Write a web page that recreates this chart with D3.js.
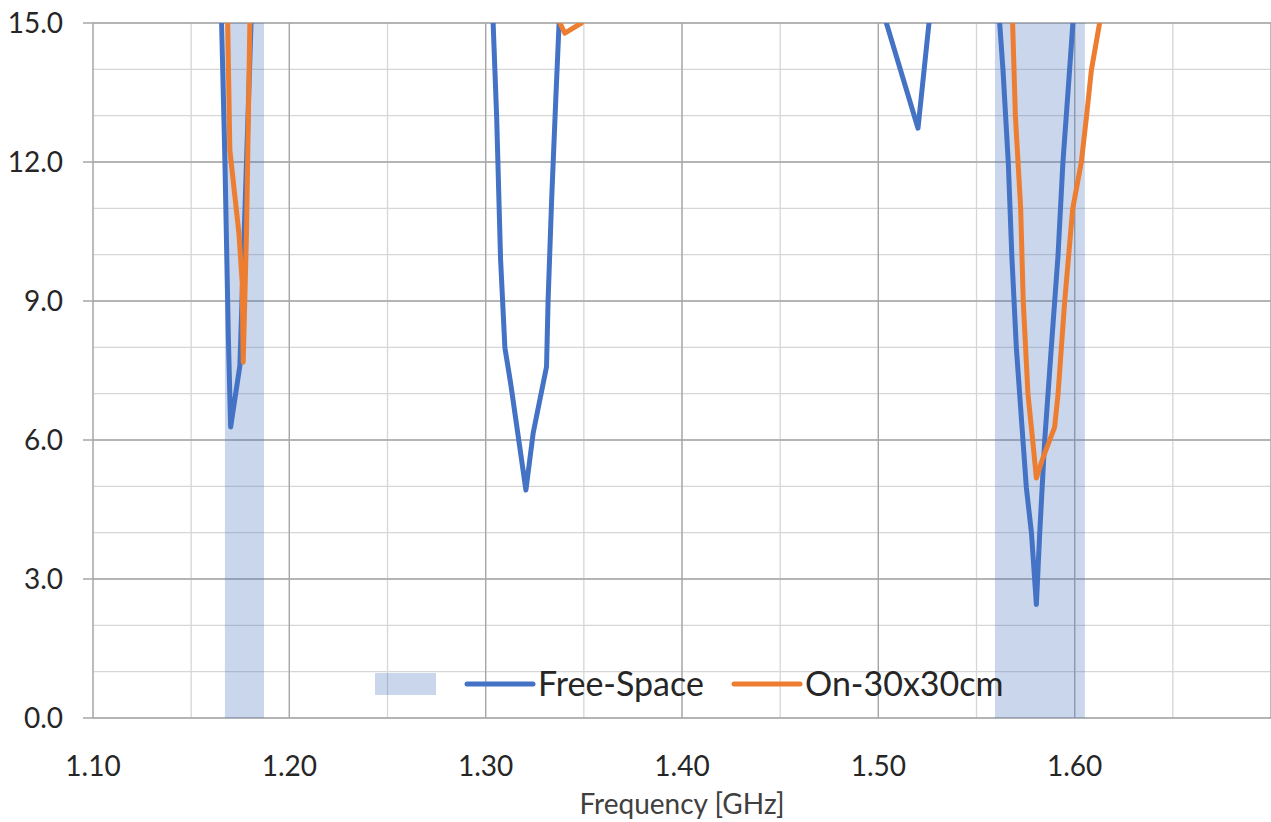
<!DOCTYPE html>
<html>
<head>
<meta charset="utf-8">
<script src="https://cdn.jsdelivr.net/npm/d3@7"></script>
<style>
  body { margin: 0; background: #fff; }
  svg { display: block; }
  text { font-family: Lato, "Open Sans", sans-serif; }
</style>
</head>
<body>
<div id="chart"></div>
<script>
// return loss curves, values above 15 run off the top of the plot and get clipped
const freeFreq = [1.100, 1.140, 1.1630, 1.1655, 1.1672, 1.1689, 1.1701, 1.1748, 1.1805, 1.1822,
  1.230, 1.280, 1.3028, 1.3038, 1.3056, 1.3076, 1.3098, 1.3127, 1.3205, 1.3242, 1.3310, 1.3318,
  1.3336, 1.3357, 1.3374, 1.3388, 1.400, 1.460, 1.4899, 1.5041, 1.5202, 1.5258, 1.5307, 1.545,
  1.5584, 1.5618, 1.5635, 1.5662, 1.5680, 1.5703, 1.5737, 1.5754, 1.5780, 1.5805, 1.5822, 1.5847,
  1.5881, 1.5915, 1.5940, 1.5974, 1.5991, 1.6025, 1.650, 1.700];
const freeRL = [20, 19, 17.5, 15.0, 12.0, 8.3, 6.28, 7.6, 15.0, 17.5,
  21, 20, 17, 15.0, 12.97, 9.89, 7.99, 7.23, 4.92, 6.15, 7.58, 9.02,
  11.18, 13.34, 15.0, 17, 22, 20, 17, 15.0, 12.73, 15.0, 17, 19,
  17, 15.0, 13.98, 11.98, 9.97, 7.99, 5.97, 4.97, 3.99, 2.45, 3.99, 5.97,
  7.99, 9.97, 11.98, 13.98, 15.0, 17, 21, 20];

const onFreq = [1.100, 1.140, 1.1675, 1.1686, 1.1697, 1.1743, 1.1760, 1.1765, 1.1782, 1.1799, 1.1810,
  1.250, 1.320, 1.3360, 1.3378, 1.3403, 1.3488, 1.3500, 1.420, 1.500,
  1.5671, 1.5684, 1.5698, 1.5725, 1.5738, 1.5762, 1.5786, 1.5805, 1.5838, 1.5898, 1.5915,
  1.5949, 1.5990, 1.6034, 1.6060, 1.6085, 1.6127, 1.6243, 1.660, 1.700];
const onRL = [21, 19, 17, 15.0, 12.26, 10.47, 9.39, 7.68, 10.5, 15.0, 17,
  22, 18, 17, 15.0, 14.78, 15.0, 17, 22, 20,
  17, 15.0, 13.0, 11.0, 9.0, 7.0, 6.0, 5.18, 5.61, 6.28, 6.97,
  8.98, 10.99, 12.0, 12.97, 13.98, 15.0, 17, 21, 20];

// shaded bands (GHz)
const bandStart = [1.1672, 1.5594];
const bandEnd = [1.1871, 1.6052];
const bandTop = 15;

const xMajor = [1.10, 1.20, 1.30, 1.40, 1.50, 1.60, 1.70];
const xLabels = ["1.10", "1.20", "1.30", "1.40", "1.50", "1.60"];
const yMajor = [0, 3, 6, 9, 12, 15];
const yLabels = ["0.0", "3.0", "6.0", "9.0", "12.0", "15.0"];

const seriesNames = ["Free-Space", "On-30x30cm"];
const seriesColors = ["#4472c4", "#ed7d31"];

const width = 1271, height = 822;
const margin = {top: 23, right: 0, bottom: 104, left: 93};

const svg = d3.select("#chart").append("svg")
  .attr("width", width)
  .attr("height", height);

const x = d3.scaleLinear().domain([1.10, 1.70]).range([margin.left, width - margin.right]);
const y = d3.scaleLinear().domain([0, 15]).range([height - margin.bottom, margin.top]);

// grid, minor first then major on top
const grid = svg.append("g");
grid.selectAll(".vminor").data(x.ticks(12)).enter().append("line")
  .attr("x1", d => x(d)).attr("x2", d => x(d))
  .attr("y1", y(0)).attr("y2", y(15))
  .attr("stroke", "#d6d6d6").attr("stroke-width", 1.3);
grid.selectAll(".hminor").data(y.ticks(15)).enter().append("line")
  .attr("x1", x(1.10)).attr("x2", x(1.70))
  .attr("y1", d => y(d)).attr("y2", d => y(d))
  .attr("stroke", "#d6d6d6").attr("stroke-width", 1.3);
grid.selectAll(".vmajor").data(xMajor).enter().append("line")
  .attr("x1", d => x(d)).attr("x2", d => x(d))
  .attr("y1", y(0)).attr("y2", y(15))
  .attr("stroke", "#a6a6a6").attr("stroke-width", 1.3);
grid.selectAll(".hmajor").data(yMajor).enter().append("line")
  .attr("x1", x(1.10) - 10).attr("x2", x(1.70))
  .attr("y1", d => y(d)).attr("y2", d => y(d))
  .attr("stroke", "#a6a6a6").attr("stroke-width", 1.3);

svg.append("clipPath").attr("id", "plot")
  .append("rect")
  .attr("x", x(1.10)).attr("y", y(15))
  .attr("width", x(1.70) - x(1.10)).attr("height", y(0) - y(15));

// bands
svg.append("g").selectAll("rect").data(bandStart).enter().append("rect")
  .attr("x", (d, i) => x(d))
  .attr("y", y(bandTop))
  .attr("width", (d, i) => x(bandEnd[i]) - x(d))
  .attr("height", y(0) - y(bandTop))
  .attr("fill", "#4f78bd").attr("fill-opacity", 0.3);

const line = d3.line().x(d => x(d[0])).y(d => y(d[1]));

const series = [d3.zip(freeFreq, freeRL), d3.zip(onFreq, onRL)];
svg.append("g").attr("clip-path", "url(#plot)")
  .selectAll("path").data(series).enter().append("path")
  .attr("d", line)
  .attr("fill", "none")
  .attr("stroke", (d, i) => seriesColors[i])
  .attr("stroke-width", 5)
  .attr("stroke-linejoin", "round")
  .attr("stroke-linecap", "round");

// axis labels
svg.append("g").selectAll("text").data(yMajor).enter().append("text")
  .attr("x", 63).attr("y", d => y(d))
  .attr("dy", "0.36em")
  .attr("text-anchor", "end")
  .attr("font-size", 28)
  .attr("fill", "#262626")
  .text((d, i) => yLabels[i]);

svg.append("g").selectAll("text").data(xLabels).enter().append("text")
  .attr("x", (d, i) => x(xMajor[i])).attr("y", 776)
  .attr("text-anchor", "middle")
  .attr("font-size", 28)
  .attr("fill", "#262626")
  .text(d => d);

svg.append("text")
  .attr("x", (x(1.10) + x(1.70)) / 2).attr("y", 814)
  .attr("text-anchor", "middle")
  .attr("font-size", 28)
  .attr("fill", "#404040")
  .text("Frequency [GHz]");

// legend
const legend = svg.append("g").attr("id", "legend");
legend.append("rect")
  .attr("x", 375).attr("y", 673).attr("width", 61).attr("height", 22)
  .attr("fill", "#4f78bd").attr("fill-opacity", 0.3);

const legendX = [467, 734];
legend.selectAll("line").data(seriesNames).enter().append("line")
  .attr("x1", (d, i) => legendX[i]).attr("x2", (d, i) => legendX[i] + 66)
  .attr("y1", 684).attr("y2", 684)
  .attr("stroke", (d, i) => seriesColors[i])
  .attr("stroke-width", 5)
  .attr("stroke-linecap", "round");
legend.selectAll("text").data(seriesNames).enter().append("text")
  .attr("x", (d, i) => legendX[i] + 71).attr("y", 696)
  .attr("font-size", 34)
  .attr("fill", "#262626")
  .text(d => d);
</script>
</body>
</html>
